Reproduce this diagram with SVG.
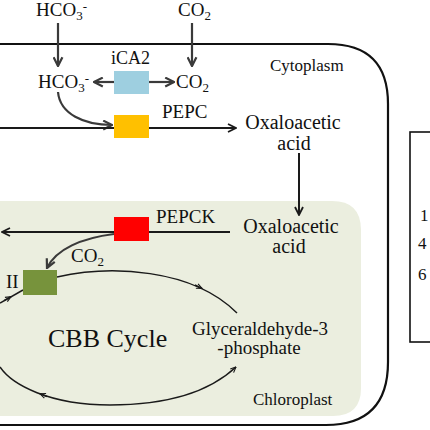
<svg xmlns="http://www.w3.org/2000/svg" width="430" height="430" viewBox="0 0 430 430">
<defs>
<style>
text{font-family:"Liberation Serif","Times New Roman",serif;fill:#111;}
.lbl{font-size:19px;}
.sm{font-size:17px;}
.sub{font-size:13px;}
.ln{fill:none;stroke:#1a1a1a;stroke-width:2;}
.ga{fill:none;stroke:#3a3a3a;stroke-width:2.2;}
.cy{fill:none;stroke:#1a1a1a;stroke-width:1.5;}
</style>
<marker id="ah" viewBox="0 0 10 10" refX="9" refY="5" markerWidth="10" markerHeight="10" orient="auto" markerUnits="userSpaceOnUse">
<path d="M1,1 L9,5 L1,9" fill="none" stroke="#1a1a1a" stroke-width="1.8"/>
</marker>
<marker id="ahg" viewBox="0 0 10 10" refX="9" refY="5" markerWidth="11" markerHeight="11" orient="auto" markerUnits="userSpaceOnUse">
<path d="M1,1 L9,5 L1,9" fill="none" stroke="#3a3a3a" stroke-width="2"/>
</marker>
<marker id="barb" viewBox="0 0 10 10" refX="9" refY="5" markerWidth="7" markerHeight="7" orient="auto" markerUnits="userSpaceOnUse">
<path d="M1,1.5 L9,5 L1,8.5" fill="none" stroke="#1a1a1a" stroke-width="1.6"/>
</marker>
</defs>
<rect width="430" height="430" fill="#ffffff"/>

<g id="cytoplasm">
<path d="M-10 44 H328 Q388 44 388 104 V362 Q388 425 326 425 H-10" fill="none" stroke="#111" stroke-width="2.2"/>
<text class="sm" x="270" y="71">Cytoplasm</text>
</g>

<g id="chloroplast">
<path d="M-10 201 H332 Q361 201 361 230 V388 Q361 416 333 416 H-10 Z" fill="#ebeedf"/>
<text class="sm" x="253" y="405">Chloroplast</text>
</g>

<g id="legend-box">
<rect x="410" y="132" width="40" height="210" fill="#fff" stroke="#111" stroke-width="1.6"/>
<text class="sm" x="420" y="221">1</text>
<text class="sm" x="418" y="249">4</text>
<text class="sm" x="418" y="280">6</text>
</g>

<g id="connectors">
<path class="ga" d="M58 23 V66" marker-end="url(#ahg)"/>
<path class="ga" d="M192 23 V66" marker-end="url(#ahg)"/>
<path class="ga" d="M114 82 H94" marker-end="url(#ahg)"/>
<path class="ga" d="M149 82 H174" marker-end="url(#ahg)"/>
<path class="ga" d="M58 92 C60 114 84 125 112 125" marker-end="url(#ahg)"/>
<path class="ln" d="M-5 128 H114"/>
<path class="ln" d="M149 128 H236" marker-end="url(#ah)"/>
<path class="ln" d="M299 153 V215" marker-end="url(#ah)"/>
<path class="ln" d="M230 232 H149"/>
<path class="ln" d="M114 232 H2" marker-end="url(#ah)"/>
<path class="ga" d="M114 234 C82 238 56 249 47 268" marker-end="url(#ahg)"/>
<path class="cy" d="M57 277 C110 265 192 268 237 313"/>
<path class="cy" d="M195 285 L202 288.5" marker-end="url(#barb)"/>
<path class="cy" d="M0 367 C12 385 50 405 110 405 C160 405 205 396 236 367" marker-end="url(#barb)"/>
<path class="cy" d="M47 396.5 L40 393.8" marker-end="url(#barb)"/>
<path class="cy" d="M0 303 L23 290"/>
<path class="cy" d="M4 300.7 L11 296.7" marker-end="url(#barb)"/>
</g>

<g id="hco3-out">
<text class="lbl" x="36" y="16">HCO<tspan class="sub" dy="4">3</tspan><tspan class="sub" dy="-9">-</tspan></text>
</g>
<g id="co2-out">
<text class="lbl" x="178" y="16">CO<tspan class="sub" dy="4">2</tspan></text>
</g>
<g id="hco3-in">
<text class="lbl" x="38" y="88">HCO<tspan class="sub" dy="4">3</tspan><tspan class="sub" dy="-9">-</tspan></text>
</g>
<g id="co2-in">
<text class="lbl" x="176" y="88">CO<tspan class="sub" dy="4">2</tspan></text>
</g>
<g id="iCA2">
<rect x="114" y="71" width="35" height="23" fill="#9ecfe0"/>
<text class="lbl" x="111" y="64" style="font-size:18px">iCA2</text>
</g>
<g id="PEPC">
<rect x="114" y="115" width="35" height="23" fill="#ffc000"/>
<text class="lbl" x="162" y="118">PEPC</text>
</g>
<g id="oaa-cyto">
<text class="lbl" x="293" y="129" text-anchor="middle" style="font-size:20px">Oxaloacetic</text>
<text class="lbl" x="294" y="150" text-anchor="middle" style="font-size:20px">acid</text>
</g>
<g id="oaa-chloro">
<text class="lbl" x="291" y="233" text-anchor="middle" style="font-size:20px">Oxaloacetic</text>
<text class="lbl" x="289" y="253" text-anchor="middle" style="font-size:20px">acid</text>
</g>
<g id="PEPCK">
<rect x="114" y="217" width="35" height="24" fill="#ff0000"/>
<text class="lbl" x="156" y="223">PEPCK</text>
</g>
<g id="co2-chloro">
<text class="lbl" x="71" y="262">CO<tspan class="sub" dy="4">2</tspan></text>
</g>
<g id="rubisco">
<rect x="23" y="270" width="34" height="25" fill="#77933c"/>
<text class="lbl" x="6" y="288">II</text>
</g>
<g id="cbb">
<text x="48" y="347" style="font-size:26px">CBB Cycle</text>
</g>
<g id="g3p">
<text class="lbl" x="260" y="335" text-anchor="middle">Glyceraldehyde-3</text>
<text class="lbl" x="259" y="354" text-anchor="middle">-phosphate</text>
</g>
</svg>
